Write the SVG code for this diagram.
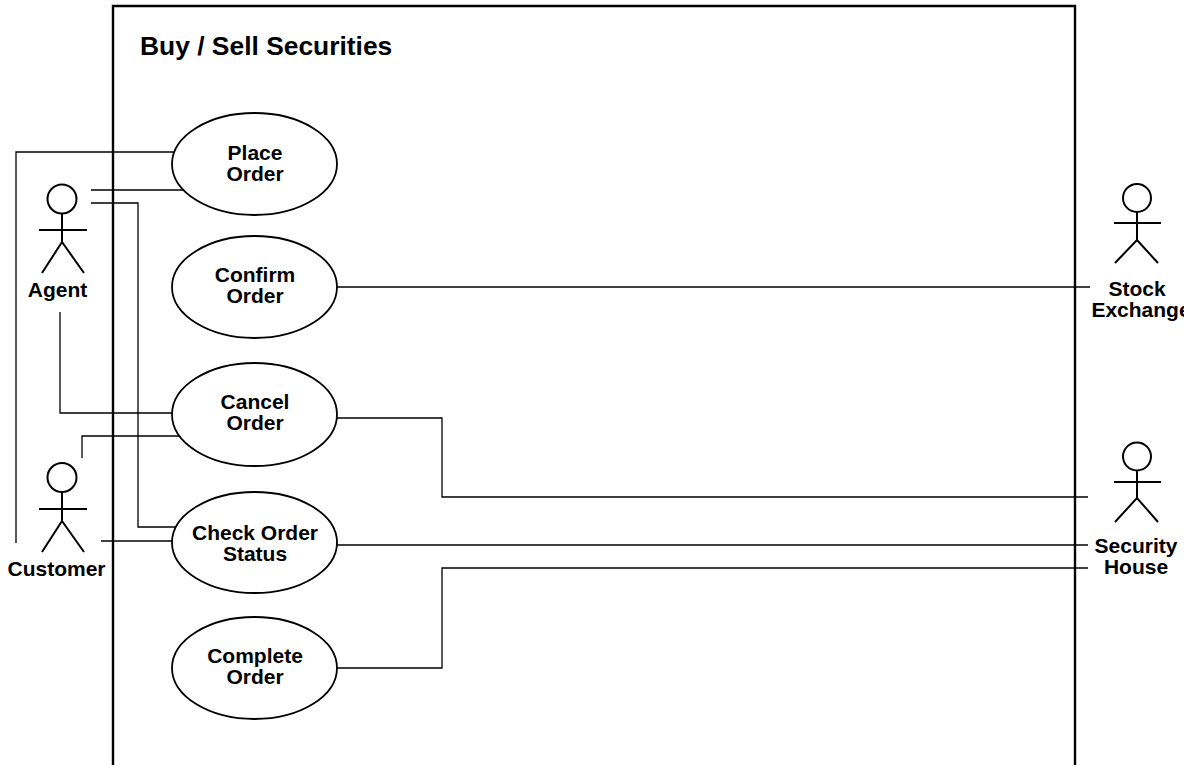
<svg xmlns="http://www.w3.org/2000/svg" width="1196" height="765" viewBox="0 0 1196 765">
<style>
  text { font-family: "Liberation Sans", Arial, sans-serif; font-weight: bold; fill: #000; }
  .lbl { font-size: 21px; text-anchor: middle; }
  .title { font-size: 26.4px; }
  .uc { fill: #fff; stroke: #000; stroke-width: 1.8; }
  .actor { fill: none; stroke: #000; stroke-width: 2; }
  .head { fill: #fff; stroke: #000; stroke-width: 2; }
  .conn { fill: none; stroke: #000; stroke-width: 1.3; }
  .boundary { fill: none; stroke: #000; stroke-width: 2.4; }
</style>
<defs>
  <clipPath id="clipEdge"><rect x="0" y="0" width="1184" height="765"/></clipPath>
</defs>
<rect x="0" y="0" width="1196" height="765" fill="#fff"/>

<g id="system-boundary">
  <path class="boundary" d="M113,790 L113,6 L1075,6 L1075,790"/>
  <text class="title" x="140" y="55">Buy / Sell Securities</text>
</g>

<g id="connectors">
  <polyline class="conn" points="16,543 16,152 174,152"/>
  <polyline class="conn" points="91,190 183,190"/>
  <polyline class="conn" points="91,203 138,203 138,527 176,527"/>
  <polyline class="conn" points="60,312 60,413 172,413"/>
  <polyline class="conn" points="82,458 82,436 179,436"/>
  <polyline class="conn" points="101,541 172,541"/>
  <polyline class="conn" points="337,287 1090,287"/>
  <polyline class="conn" points="337,418 442,418 442,497 1088,497"/>
  <polyline class="conn" points="337,545 1088,545"/>
  <polyline class="conn" points="337,668 442,668 442,568 1088,568"/>
</g>

<g id="uc-place-order">
  <ellipse class="uc" cx="254.5" cy="164" rx="82.5" ry="51"/>
  <text class="lbl" x="255" y="160">Place</text>
  <text class="lbl" x="255" y="181">Order</text>
</g>
<g id="uc-confirm-order">
  <ellipse class="uc" cx="254.5" cy="287" rx="82.5" ry="51"/>
  <text class="lbl" x="255" y="282">Confirm</text>
  <text class="lbl" x="255" y="303">Order</text>
</g>
<g id="uc-cancel-order">
  <ellipse class="uc" cx="254.5" cy="414.5" rx="82.5" ry="51.5"/>
  <text class="lbl" x="255" y="409">Cancel</text>
  <text class="lbl" x="255" y="430">Order</text>
</g>
<g id="uc-check-order-status">
  <ellipse class="uc" cx="254.5" cy="542.5" rx="82.5" ry="50.5"/>
  <text class="lbl" x="255" y="540">Check Order</text>
  <text class="lbl" x="255" y="561">Status</text>
</g>
<g id="uc-complete-order">
  <ellipse class="uc" cx="254.5" cy="668" rx="82.5" ry="51"/>
  <text class="lbl" x="255" y="663">Complete</text>
  <text class="lbl" x="255" y="684">Order</text>
</g>

<g id="actor-agent">
  <circle class="head" cx="62" cy="199" r="14.5"/>
  <path class="actor" d="M62,213.5 L62,242 M39,230 L87,230 M42,273 L62,242 L84,273"/>
  <text class="lbl" x="57.5" y="297">Agent</text>
</g>
<g id="actor-customer">
  <circle class="head" cx="62" cy="477.5" r="14.5"/>
  <path class="actor" d="M62,492 L62,521 M39,509 L87,509 M42,552 L62,521 L84,552"/>
  <text class="lbl" x="56.5" y="576">Customer</text>
</g>
<g id="actor-stock-exchange">
  <circle class="head" cx="1137" cy="198" r="14"/>
  <path class="actor" d="M1137,212 L1137,240 M1114,223 L1161,223 M1115,263 L1137,240 L1158,263"/>
  <text class="lbl" x="1137" y="296">Stock</text>
  <text class="lbl" x="1141" y="317" clip-path="url(#clipEdge)">Exchange</text>
</g>
<g id="actor-security-house">
  <circle class="head" cx="1137" cy="456.5" r="14"/>
  <path class="actor" d="M1137,470.5 L1137,498 M1114,482 L1161,482 M1115,522 L1137,498 L1158,522"/>
  <text class="lbl" x="1136" y="553">Security</text>
  <text class="lbl" x="1136" y="574">House</text>
</g>
</svg>
